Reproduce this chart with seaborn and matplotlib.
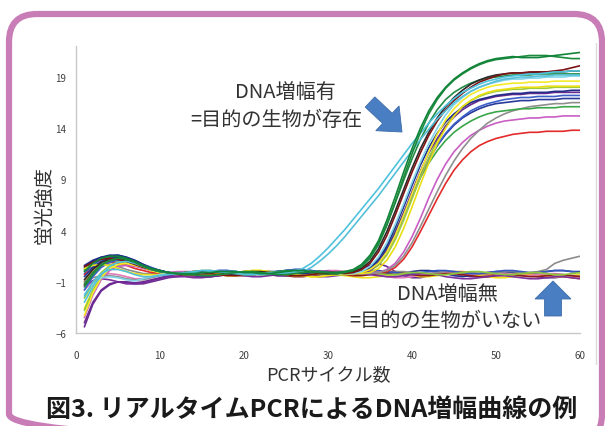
import matplotlib
matplotlib.use("Agg")
import matplotlib.pyplot as plt
from matplotlib.patches import FancyBboxPatch, FancyArrow
import seaborn as sns
import pandas as pd

# ---- data: fluorescence per PCR cycle for each well ----
cycles = list(range(1, 61))

# amplified wells
green_a = [0.0, 0.8, 1.3, 1.5, 1.5, 1.3, 1.0, 0.6, 0.3, 0.1,
           -0.1, -0.2, -0.2, -0.2, -0.1, -0.1, 0.0, 0.0, 0.0, -0.1,
           -0.1, -0.2, -0.2, -0.1, 0.0, 0.1, 0.1, 0.0, -0.1, -0.1,
           -0.1, 0.0, 0.2, 0.7, 1.6, 3.0, 5.0, 7.3, 9.7, 12.0,
           14.0, 15.7, 17.0, 18.0, 18.8, 19.4, 19.9, 20.3, 20.6, 20.8,
           20.9, 21.0, 20.9, 20.9, 20.9, 21.0, 21.1, 21.2, 21.3, 21.4]
green_b = [-1.5, -0.3, 0.6, 1.1, 1.3, 1.2, 0.9, 0.5, 0.2, 0.0,
           -0.1, -0.2, -0.3, -0.3, -0.4, -0.4, -0.3, -0.2, -0.1, 0.0,
           0.0, -0.1, -0.2, -0.3, -0.3, -0.2, -0.1, 0.0, 0.0, -0.1,
           -0.2, -0.1, 0.1, 0.5, 1.3, 2.6, 4.5, 6.8, 9.2, 11.5,
           13.6, 15.4, 16.8, 17.9, 18.7, 19.3, 19.8, 20.2, 20.5, 20.7,
           20.8, 20.9, 21.0, 21.1, 21.1, 21.1, 21.0, 20.9, 20.8, 20.8]
cyan_a = [-3.0, -1.5, -0.3, 0.5, 0.9, 1.0, 0.8, 0.5, 0.2, 0.0,
          -0.1, -0.2, -0.1, 0.0, 0.1, 0.1, 0.0, -0.1, -0.2, -0.3,
          -0.3, -0.2, -0.1, -0.1, -0.1, 0.0, 0.3, 0.8, 1.5, 2.3,
          3.2, 4.1, 5.1, 6.1, 7.1, 8.1, 9.2, 10.3, 11.4, 12.5,
          13.5, 14.5, 15.4, 16.2, 16.9, 17.5, 17.9, 18.3, 18.6, 18.8,
          19.0, 19.1, 19.2, 19.3, 19.3, 19.4, 19.5, 19.5, 19.6, 19.6]
cyan_b = [-2.4, -1.0, -0.2, 0.2, 0.2, 0.0, -0.3, -0.5, -0.5, -0.4,
          -0.3, -0.2, -0.2, -0.1, -0.1, 0.0, 0.0, -0.1, -0.1, -0.2,
          -0.2, -0.3, -0.2, -0.2, -0.2, -0.1, 0.0, 0.4, 1.0, 1.7,
          2.5, 3.4, 4.4, 5.4, 6.4, 7.4, 8.5, 9.6, 10.7, 11.8,
          12.9, 13.9, 14.9, 15.7, 16.5, 17.1, 17.6, 18.0, 18.3, 18.6,
          18.8, 18.9, 19.0, 19.0, 19.1, 19.1, 19.2, 19.2, 19.2, 19.2]
maroon_a = [0.5, 0.9, 1.2, 1.3, 1.2, 1.0, 0.7, 0.4, 0.2, 0.0,
            -0.1, -0.2, -0.3, -0.3, -0.2, -0.2, -0.3, -0.4, -0.4, -0.3,
            -0.2, -0.1, -0.1, -0.2, -0.3, -0.4, -0.4, -0.3, -0.2, -0.1,
            -0.1, -0.2, -0.1, 0.2, 0.8, 1.9, 3.5, 5.5, 7.6, 9.7,
            11.6, 13.3, 14.7, 15.8, 16.7, 17.4, 18.0, 18.5, 18.8, 19.1,
            19.3, 19.4, 19.4, 19.5, 19.5, 19.5, 19.6, 19.7, 19.9, 20.1]
black_a = [-0.8, 0.2, 0.9, 1.2, 1.3, 1.1, 0.8, 0.5, 0.2, 0.0,
           -0.1, -0.2, -0.1, -0.1, 0.0, 0.0, -0.1, -0.2, -0.2, -0.1,
           0.0, 0.0, -0.1, -0.2, -0.2, -0.1, 0.0, 0.0, -0.1, -0.2,
           -0.2, -0.1, 0.0, 0.3, 1.0, 2.2, 3.9, 5.9, 8.0, 10.1,
           12.0, 13.6, 15.0, 16.1, 17.0, 17.7, 18.3, 18.7, 19.0, 19.2,
           19.3, 19.4, 19.4, 19.4, 19.5, 19.5, 19.5, 19.5, 19.6, 19.6]
green_c = [-1.2, -0.1, 0.7, 1.1, 1.2, 1.1, 0.8, 0.5, 0.2, 0.0,
           -0.1, -0.2, -0.1, 0.0, 0.1, 0.1, 0.0, -0.1, -0.2, -0.3,
           -0.3, -0.2, -0.1, 0.0, 0.1, 0.1, 0.0, -0.1, -0.2, -0.2,
           -0.2, -0.1, 0.1, 0.5, 1.4, 2.8, 4.6, 6.7, 8.9, 11.0,
           12.9, 14.5, 15.8, 16.8, 17.5, 18.0, 18.4, 18.7, 18.9, 19.0,
           19.1, 19.2, 19.2, 19.2, 19.3, 19.3, 19.3, 19.3, 19.3, 19.3]
cyan_c = [-2.2, -1.2, -0.6, -0.5, -0.6, -0.8, -0.9, -0.7, -0.5, -0.3,
          -0.2, -0.2, -0.2, -0.2, -0.1, -0.1, 0.0, 0.0, 0.0, -0.1,
          -0.1, -0.2, -0.2, -0.1, 0.0, 0.1, 0.1, 0.0, -0.1, -0.1,
          -0.2, -0.2, -0.2, 0.0, 0.5, 1.4, 2.8, 4.6, 6.6, 8.7,
          10.7, 12.5, 14.0, 15.3, 16.3, 17.0, 17.6, 18.0, 18.3, 18.5,
          18.7, 18.8, 18.8, 18.9, 18.9, 19.0, 19.0, 19.0, 19.1, 19.1]
yellow_a = [-4.3, -2.1, -0.6, 0.3, 0.7, 0.8, 0.6, 0.4, 0.1, -0.1,
            -0.2, -0.2, -0.3, -0.3, -0.2, -0.2, -0.3, -0.4, -0.4, -0.3,
            -0.2, -0.1, -0.1, -0.2, -0.3, -0.4, -0.4, -0.3, -0.2, -0.1,
            -0.1, -0.2, -0.2, -0.1, 0.2, 0.8, 1.9, 3.5, 5.5, 7.6,
            9.7, 11.7, 13.4, 14.8, 15.9, 16.7, 17.3, 17.7, 18.0, 18.2,
            18.3, 18.4, 18.4, 18.5, 18.5, 18.5, 18.6, 18.6, 18.6, 18.6]
yellow_b = [0.3, 0.6, 0.7, 0.6, 0.3, 0.0, -0.2, -0.3, -0.3, -0.3,
            -0.2, -0.2, -0.1, 0.0, 0.0, -0.1, -0.2, -0.2, -0.1, 0.0,
            0.1, 0.1, 0.0, -0.1, -0.2, -0.3, -0.4, -0.5, -0.5, -0.4,
            -0.3, -0.3, -0.2, -0.2, -0.1, 0.3, 1.1, 2.4, 4.2, 6.3,
            8.5, 10.6, 12.5, 14.0, 15.2, 16.1, 16.7, 17.2, 17.5, 17.7,
            17.8, 17.9, 18.0, 18.0, 18.0, 18.1, 18.1, 18.1, 18.1, 18.1]
navy_a = [0.4, 1.0, 1.4, 1.6, 1.6, 1.4, 1.1, 0.7, 0.3, 0.1,
          -0.1, -0.2, -0.2, -0.1, 0.0, 0.0, -0.1, -0.2, -0.3, -0.3,
          -0.2, -0.1, 0.0, 0.0, -0.1, -0.2, -0.2, -0.1, 0.0, 0.0,
          -0.1, -0.1, 0.0, 0.0, 0.4, 1.2, 2.5, 4.3, 6.3, 8.4,
          10.4, 12.1, 13.5, 14.6, 15.4, 16.0, 16.5, 16.8, 17.0, 17.2,
          17.3, 17.4, 17.4, 17.5, 17.5, 17.5, 17.6, 17.6, 17.7, 17.7]
purple_a = [-5.4, -3.2, -1.9, -1.3, -1.0, -1.0, -1.1, -1.0, -0.8, -0.6,
            -0.4, -0.3, -0.3, -0.4, -0.5, -0.5, -0.4, -0.3, -0.2, -0.1,
            -0.1, -0.2, -0.3, -0.4, -0.4, -0.3, -0.2, -0.1, 0.0, 0.0,
            -0.1, -0.2, -0.2, -0.2, 0.1, 0.8, 2.0, 3.7, 5.7, 7.8,
            9.8, 11.6, 13.0, 14.2, 15.1, 15.8, 16.3, 16.7, 16.9, 17.1,
            17.2, 17.3, 17.3, 17.4, 17.4, 17.4, 17.5, 17.5, 17.5, 17.5]
lime_a = [-2.6, -1.2, -0.1, 0.6, 0.9, 0.9, 0.7, 0.4, 0.1, -0.1,
          -0.2, -0.2, -0.2, -0.1, -0.1, -0.2, -0.3, -0.3, -0.2, -0.1,
          0.0, 0.0, -0.1, -0.2, -0.2, -0.1, 0.0, 0.0, -0.1, -0.2,
          -0.3, -0.3, -0.2, -0.1, 0.1, 0.6, 1.6, 3.1, 5.0, 7.1,
          9.2, 11.1, 12.8, 14.2, 15.3, 16.1, 16.7, 17.1, 17.4, 17.6,
          17.7, 17.8, 17.8, 17.9, 17.9, 17.9, 18.0, 18.0, 18.0, 18.0]
blue_a = [-1.8, -0.5, 0.4, 0.9, 1.1, 1.1, 0.9, 0.6, 0.3, 0.1,
          -0.1, -0.2, -0.1, -0.1, 0.0, 0.0, 0.1, 0.1, 0.0, -0.1,
          -0.2, -0.2, -0.1, 0.0, 0.1, 0.2, 0.2, 0.1, 0.0, -0.1,
          -0.2, -0.2, -0.2, -0.2, 0.1, 0.7, 1.8, 3.4, 5.3, 7.3,
          9.2, 10.9, 12.3, 13.5, 14.4, 15.1, 15.7, 16.1, 16.4, 16.6,
          16.8, 16.9, 17.0, 17.0, 17.1, 17.1, 17.1, 17.2, 17.2, 17.2]
navy_b = [-0.5, 0.4, 1.0, 1.3, 1.4, 1.3, 1.0, 0.6, 0.3, 0.1,
          -0.1, -0.2, -0.3, -0.3, -0.2, -0.2, -0.3, -0.3, -0.2, -0.1,
          0.0, 0.0, -0.1, -0.2, -0.3, -0.3, -0.2, -0.1, -0.1, -0.1,
          -0.1, -0.1, -0.1, 0.0, 0.3, 1.0, 2.2, 3.8, 5.7, 7.6,
          9.4, 11.0, 12.3, 13.4, 14.3, 15.0, 15.5, 15.9, 16.2, 16.4,
          16.5, 16.6, 16.7, 16.7, 16.8, 16.8, 16.8, 16.9, 16.9, 16.9]
gray_a = [-1.0, -0.6, -0.4, -0.4, -0.5, -0.7, -0.8, -0.8, -0.6, -0.4,
          -0.3, -0.2, -0.2, -0.2, -0.1, -0.1, -0.1, -0.2, -0.2, -0.3,
          -0.3, -0.2, -0.2, -0.1, -0.1, -0.2, -0.3, -0.3, -0.2, -0.1,
          0.0, 0.0, -0.1, -0.2, -0.2, -0.1, 0.1, 0.6, 1.5, 2.8,
          4.4, 6.1, 7.8, 9.4, 10.8, 12.0, 13.0, 13.8, 14.5, 15.0,
          15.4, 15.7, 15.9, 16.1, 16.2, 16.3, 16.4, 16.4, 16.5, 16.5]
green_d = [0.2, 0.9, 1.3, 1.4, 1.3, 1.1, 0.8, 0.5, 0.2, 0.0,
           -0.1, -0.2, -0.2, -0.3, -0.3, -0.2, -0.1, 0.0, 0.0, -0.1,
           -0.2, -0.3, -0.3, -0.2, -0.1, 0.0, 0.0, -0.1, -0.2, -0.2,
           -0.2, -0.1, -0.1, 0.0, 0.4, 1.1, 2.3, 3.9, 5.7, 7.5,
           9.2, 10.6, 11.8, 12.8, 13.6, 14.2, 14.7, 15.1, 15.4, 15.6,
           15.7, 15.8, 15.9, 15.9, 16.0, 16.0, 16.0, 16.1, 16.1, 16.1]
magenta_a = [-4.5, -2.3, -0.8, 0.1, 0.5, 0.6, 0.5, 0.3, 0.1, -0.1,
             -0.2, -0.2, -0.1, 0.0, 0.0, -0.1, -0.2, -0.3, -0.3, -0.2,
             -0.1, 0.0, 0.0, -0.1, -0.2, -0.3, -0.3, -0.2, -0.1, 0.0,
             0.0, -0.1, -0.1, -0.1, -0.1, -0.1, 0.2, 0.8, 1.9, 3.4,
             5.2, 7.2, 9.0, 10.5, 11.7, 12.6, 13.3, 13.8, 14.2, 14.5,
             14.7, 14.8, 14.9, 15.0, 15.0, 15.1, 15.1, 15.2, 15.2, 15.2]
red_a = [-0.3, 0.3, 0.7, 0.9, 0.8, 0.6, 0.3, 0.1, -0.1, -0.2,
         -0.2, -0.2, -0.1, -0.1, -0.2, -0.3, -0.3, -0.2, -0.1, 0.0,
         0.0, -0.1, -0.2, -0.3, -0.3, -0.2, -0.1, 0.0, 0.0, -0.1,
         -0.2, -0.3, -0.3, -0.2, -0.1, -0.1, 0.0, 0.4, 1.2, 2.4,
         3.9, 5.5, 7.1, 8.6, 9.9, 10.9, 11.7, 12.3, 12.7, 13.0,
         13.2, 13.4, 13.5, 13.6, 13.6, 13.7, 13.7, 13.7, 13.8, 13.8]

# wells without amplification
purple_n = [-5.0, -3.0, -1.8, -1.2, -1.0, -1.1, -1.2, -1.2, -1.0, -0.8,
            -0.6, -0.5, -0.4, -0.4, -0.5, -0.5, -0.4, -0.3, -0.2, -0.1,
            -0.1, -0.2, -0.3, -0.4, -0.4, -0.3, -0.2, -0.1, 0.0, 0.0,
            -0.1, -0.2, 0.0, 0.3, 0.6, 0.8, 0.5, 0.0, -0.4, -0.6,
            -0.6, -0.4, -0.2, -0.1, -0.2, -0.4, -0.5, -0.5, -0.4, -0.2,
            0.0, 0.0, -0.1, -0.3, -0.5, -0.6, -0.6, -0.5, -0.4, -0.4]
navy_n = [0.6, 1.1, 1.4, 1.5, 1.4, 1.2, 0.9, 0.6, 0.3, 0.1,
          -0.1, -0.2, -0.2, -0.2, -0.1, 0.0, 0.0, -0.1, -0.2, -0.3,
          -0.3, -0.2, -0.1, 0.0, 0.1, 0.1, 0.0, -0.1, -0.2, -0.3,
          -0.3, -0.2, -0.1, 0.0, 0.0, -0.1, -0.2, -0.3, -0.2, 0.0,
          0.1, 0.1, 0.0, -0.2, -0.4, -0.5, -0.4, -0.2, -0.1, 0.0,
          0.0, -0.1, -0.2, -0.2, -0.1, 0.0, 0.1, 0.1, 0.0, 0.0]
yellow_n = [-3.6, -1.8, -0.4, 0.5, 1.0, 1.1, 0.9, 0.6, 0.3, 0.0,
            -0.1, -0.1, -0.1, 0.0, 0.0, -0.1, -0.2, -0.2, -0.1, 0.0,
            0.1, 0.1, 0.0, -0.1, -0.2, -0.3, -0.4, -0.5, -0.5, -0.4,
            -0.3, -0.4, -0.5, -0.6, -0.6, -0.5, -0.4, -0.3, -0.3, -0.4,
            -0.5, -0.5, -0.4, -0.3, -0.2, -0.2, -0.3, -0.4, -0.5, -0.6,
            -0.6, -0.5, -0.4, -0.3, -0.3, -0.4, -0.5, -0.5, -0.4, -0.3]
orange_n = [-1.0, 0.0, 0.7, 1.0, 1.1, 1.0, 0.7, 0.4, 0.1, -0.1,
            -0.2, -0.3, -0.3, -0.3, -0.2, -0.2, -0.3, -0.4, -0.4, -0.3,
            -0.2, -0.1, -0.1, -0.2, -0.3, -0.4, -0.4, -0.3, -0.2, -0.1,
            -0.1, -0.2, -0.3, -0.3, -0.2, -0.1, 0.0, 0.0, -0.1, -0.2,
            -0.3, -0.3, -0.2, -0.1, 0.0, 0.0, -0.1, -0.2, -0.3, -0.4,
            -0.4, -0.3, -0.2, -0.2, -0.3, -0.4, -0.5, -0.5, -0.6, -0.7]
pink_n = [-1.8, -0.9, -0.4, -0.2, -0.3, -0.5, -0.7, -0.7, -0.5, -0.3,
          -0.1, 0.0, 0.0, 0.0, -0.1, -0.2, -0.3, -0.3, -0.2, -0.1,
          0.0, 0.0, -0.1, -0.2, -0.3, -0.3, -0.2, -0.1, 0.0, 0.1,
          0.1, 0.0, -0.1, -0.1, -0.2, -0.3, -0.5, -0.6, -0.6, -0.5,
          -0.3, -0.2, -0.1, -0.1, -0.2, -0.3, -0.3, -0.2, -0.1, -0.1,
          -0.2, -0.3, -0.4, -0.4, -0.3, -0.2, -0.2, -0.3, -0.4, -0.5]
gray_n = [0.1, 0.5, 0.7, 0.7, 0.5, 0.2, 0.0, -0.2, -0.2, -0.2,
          -0.2, -0.2, -0.2, -0.2, -0.2, -0.1, -0.1, -0.1, -0.2, -0.2,
          -0.3, -0.3, -0.2, -0.2, -0.1, -0.1, -0.2, -0.3, -0.3, -0.2,
          -0.1, 0.0, 0.0, -0.1, -0.2, -0.2, -0.1, 0.0, 0.0, -0.1,
          -0.2, -0.2, -0.1, 0.0, 0.0, -0.1, -0.1, -0.2, -0.2, -0.1,
          0.0, 0.0, -0.1, -0.1, 0.0, 0.2, 0.8, 1.1, 1.3, 1.5]
maroon_n = [-1.3, -0.2, 0.6, 1.0, 1.2, 1.1, 0.8, 0.5, 0.2, 0.0,
            -0.2, -0.3, -0.4, -0.4, -0.3, -0.2, -0.2, -0.3, -0.4, -0.4,
            -0.3, -0.2, -0.2, -0.3, -0.4, -0.5, -0.5, -0.4, -0.3, -0.2,
            -0.2, -0.3, -0.4, -0.4, -0.3, -0.2, -0.1, -0.1, -0.2, -0.3,
            -0.4, -0.4, -0.3, -0.2, -0.2, -0.3, -0.4, -0.5, -0.5, -0.4,
            -0.3, -0.3, -0.4, -0.5, -0.5, -0.4, -0.3, -0.3, -0.4, -0.5]
blue_n = [-0.2, 0.6, 1.2, 1.5, 1.6, 1.4, 1.1, 0.7, 0.4, 0.1,
          -0.1, -0.1, -0.1, -0.1, 0.0, 0.0, 0.1, 0.1, 0.0, -0.1,
          -0.2, -0.2, -0.1, 0.0, 0.1, 0.2, 0.2, 0.1, 0.0, -0.1,
          -0.2, -0.2, -0.1, 0.0, 0.1, 0.1, 0.0, -0.1, -0.2, -0.2,
          -0.1, 0.0, 0.1, 0.1, 0.0, -0.1, -0.2, -0.2, -0.1, 0.0,
          0.1, 0.1, 0.0, -0.1, -0.1, 0.0, 0.1, 0.1, 0.0, -0.1]
violet_n = [-1.4, -0.9, -0.7, -0.8, -1.0, -1.2, -1.2, -1.1, -0.9, -0.7,
            -0.5, -0.5, -0.5, -0.6, -0.6, -0.5, -0.4, -0.3, -0.3, -0.4,
            -0.5, -0.5, -0.4, -0.3, -0.2, -0.2, -0.3, -0.4, -0.5, -0.5,
            -0.4, -0.3, -0.2, -0.2, -0.3, -0.4, -0.5, -0.5, -0.4, -0.3,
            -0.2, -0.2, -0.3, -0.5, -0.6, -0.7, -0.7, -0.6, -0.5, -0.4,
            -0.4, -0.5, -0.6, -0.7, -0.7, -0.6, -0.5, -0.5, -0.6, -0.7]
lime_n = [-3.8, -1.9, -0.6, 0.2, 0.6, 0.7, 0.6, 0.4, 0.1, -0.1,
          -0.2, -0.2, -0.2, -0.1, -0.1, -0.2, -0.3, -0.3, -0.2, -0.1,
          0.0, 0.0, -0.1, -0.2, -0.2, -0.1, 0.0, 0.0, -0.1, -0.2,
          -0.3, -0.3, -0.2, -0.1, -0.1, -0.2, -0.3, -0.3, -0.2, -0.1,
          -0.1, -0.2, -0.3, -0.3, -0.2, -0.1, 0.0, 0.0, -0.1, -0.2,
          -0.3, -0.3, -0.2, -0.1, -0.1, -0.2, -0.3, -0.3, -0.2, -0.1]

wells = {
    "purple_n": (purple_n, "#6b2c91"), "navy_n": (navy_n, "#24358f"),
    "yellow_n": (yellow_n, "#f2e21a"), "orange_n": (orange_n, "#f0902a"),
    "pink_n": (pink_n, "#e27ab8"), "gray_n": (gray_n, "#8c8c8c"),
    "maroon_n": (maroon_n, "#8a1c1c"), "blue_n": (blue_n, "#3558c0"),
    "violet_n": (violet_n, "#7d2f9e"), "lime_n": (lime_n, "#8cc63f"),
    "red_a": (red_a, "#e32b2b"), "magenta_a": (magenta_a, "#c95ec4"),
    "gray_a": (gray_a, "#8f8f8f"), "green_d": (green_d, "#3aa54a"),
    "navy_b": (navy_b, "#283a9a"), "blue_a": (blue_a, "#3c5fc8"),
    "lime_a": (lime_a, "#9fcc3b"), "purple_a": (purple_a, "#6a2a92"),
    "navy_a": (navy_a, "#1f2d86"), "yellow_b": (yellow_b, "#e9df12"),
    "yellow_a": (yellow_a, "#f5ea2a"), "cyan_c": (cyan_c, "#7fd3e6"),
    "green_c": (green_c, "#228b45"), "black_a": (black_a, "#2a2a2a"),
    "maroon_a": (maroon_a, "#7d1414"), "cyan_b": (cyan_b, "#55bfd8"),
    "cyan_a": (cyan_a, "#4fc2dd"), "green_b": (green_b, "#1b8a3d"),
    "green_a": (green_a, "#12843a"),
}

y_ticks = [-6, -1, 4, 9, 14, 19]
x_ticks = [0, 10, 20, 30, 40, 50, 60]

rows = []
for name, (vals, _) in wells.items():
    assert len(vals) == len(cycles), name
    rows += [(name, c, v) for c, v in zip(cycles, vals)]
df = pd.DataFrame(rows, columns=["well", "cycle", "value"])
palette = {name: col for name, (_, col) in wells.items()}

# ---- figure ----
sns.set_theme(style="white")
plt.rcParams["font.family"] = ["Noto Sans CJK JP", "DejaVu Sans"]

W, H = 605, 427
fig = plt.figure(figsize=(W / 100, H / 100), dpi=100)
fig.patch.set_facecolor("white")

ax_l, ax_r, ax_b, ax_t = 76, 580, 334, 47.3
ax = fig.add_axes([ax_l / W, (H - ax_b) / H, (ax_r - ax_l) / W, (ax_b - ax_t) / H], zorder=2)
sns.lineplot(data=df, x="cycle", y="value", hue="well", palette=palette,
             estimator=None, sort=False, legend=False, linewidth=1.2, ax=ax)

ax.set_xlim(0, 60)
ax.set_ylim(-6, 22)
ax.set_xticks(x_ticks)
ax.set_yticks(y_ticks)
ax.set_facecolor("none")
for s in ["top", "right"]:
    ax.spines[s].set_visible(False)
for s in ["left", "bottom"]:
    ax.spines[s].set_color("#c8c8c8")
    ax.spines[s].set_linewidth(1.0)
ax.tick_params(axis="both", labelsize=7, colors="#c0c0c0", labelcolor="#404040",
               length=4, width=0.8, direction="out")
ax.tick_params(axis="x", pad=8)
ax.tick_params(axis="y", pad=3)

ax.set_xlabel("PCRサイクル数", fontsize=13, color="#333333")
ax.set_ylabel("蛍光強度", fontsize=14, color="#333333")
ax.xaxis.set_label_coords(0.5, -0.143)
ax.xaxis.label.set_va("center")
ax.yaxis.set_label_coords(-0.063, 0.45)
ax.yaxis.label.set_va("center")

# ---- overlay in pixel coordinates: frame, notes, arrows, caption ----
ov = fig.add_axes([0, 0, 1, 1], zorder=3)
ov.set_xlim(0, W)
ov.set_ylim(H, 0)
ov.axis("off")
ov.patch.set_alpha(0)

frame = FancyBboxPatch((9, 15), 593, 428, boxstyle="round,pad=0,rounding_size=28",
                       linewidth=4.5, edgecolor="#c97db7", facecolor="none")
ov.add_patch(frame)
ov.plot([596, 596], [44, 365], color="#dadada", lw=1.0)

note_kw = dict(ha="center", va="center", fontsize=14.5, color="#333333")
ov.text(285, 92, "DNA増幅有", **note_kw)
ov.text(276, 121, "=目的の生物が存在", **note_kw)
ov.text(447, 295, "DNA増幅無", **note_kw)
ov.text(445, 322, "=目的の生物がいない", **note_kw)

arrow_kw = dict(length_includes_head=True, facecolor="#4a7ec2", edgecolor="#3f6eaa", linewidth=0.6)
ov.add_patch(FancyArrow(370, 103, 32, 30, width=14, head_width=34, head_length=20, **arrow_kw))
ov.add_patch(FancyArrow(553, 317, 0, -35, width=17, head_width=36, head_length=18, **arrow_kw))

ov.text(312, 410, "図3. リアルタイムPCRによるDNA増幅曲線の例", ha="center", va="center",
        fontsize=18, fontweight="bold", color="#1a1a1a")

fig.savefig("out.png", dpi=100, facecolor="white")
